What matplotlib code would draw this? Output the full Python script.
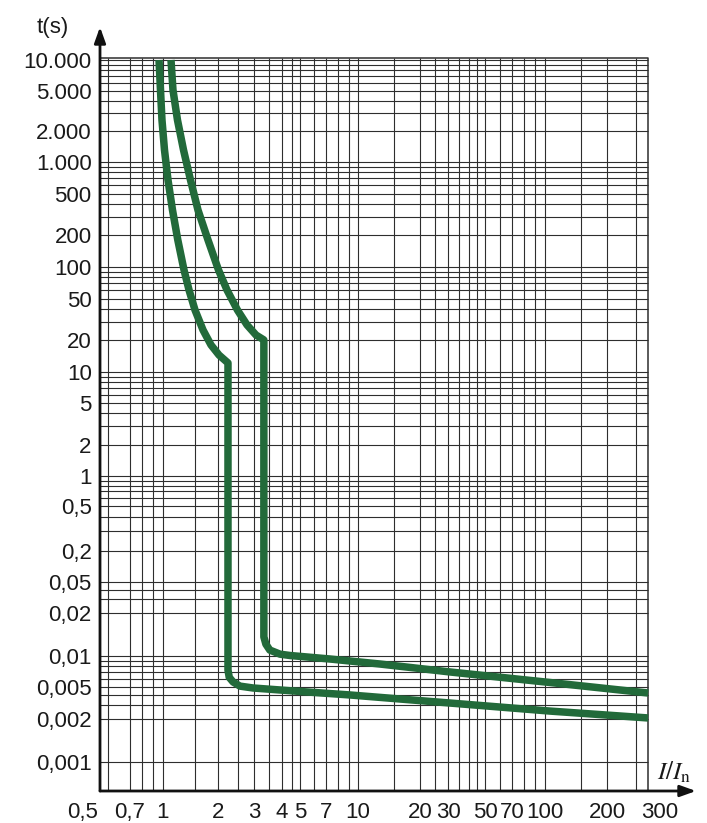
import numpy as np
import matplotlib.pyplot as plt

plt.rcParams['font.family'] = ['Liberation Sans', 'DejaVu Sans']
plt.rcParams['mathtext.fontset'] = 'stix'

W, H = 707, 823

# printed axis values
x_ticks = [0.5, 0.7, 1, 2, 3, 4, 5, 7, 10, 20, 30, 50, 70, 100, 200, 300]
x_labels = ['0,5', '0,7', '1', '2', '3', '4', '5', '7', '10', '20', '30',
            '50', '70', '100', '200', '300']
y_ticks = [10000, 5000, 2000, 1000, 500, 200, 100, 50, 20, 10, 5, 2, 1,
           0.5, 0.2, 0.05, 0.02, 0.01, 0.005, 0.002, 0.001]
y_labels = ['10.000', '5.000', '2.000', '1.000', '500', '200', '100', '50',
            '20', '10', '5', '2', '1', '0,5', '0,2', '0,05', '0,02', '0,01',
            '0,005', '0,002', '0,001']

# tripping curves: I/In vs time (s)
fast_i = [0.958, 0.973, 0.989, 1.019, 1.065, 1.127, 1.205, 1.303, 1.388,
          1.497, 1.656, 1.831, 2.023, 2.238,
          2.238, 2.27, 2.37, 2.56, 2.97, 5.0, 9.15, 30.8, 105.7, 274]
fast_t = [10000, 5080, 2582, 1312, 674, 349, 181, 93.7, 60.4,
          38.9, 25.1, 18.1, 14.5, 12.2,
          0.0073, 0.0062, 0.0056, 0.0051, 0.00486, 0.0044, 0.00398, 0.00316,
          0.00251, 0.00206]
slow_i = [1.106, 1.134, 1.2, 1.295, 1.414, 1.554, 1.763, 2.011, 2.213,
          2.49, 2.772, 3.062, 3.32,
          3.32, 3.39, 3.53, 3.92, 4.42, 7.32, 12.78, 30.8, 105.7, 274]
slow_t = [10000, 5080, 2582, 1312, 674, 349, 181, 93.7, 60.4,
          38.9, 28.1, 22.5, 20.2,
          0.0136, 0.0121, 0.0110, 0.0103, 0.01008, 0.00935, 0.00836, 0.0070,
          0.00553, 0.00421]

# the printed axes are not a clean log scale: piecewise log scale
# anchored at where each label sits on the sheet (pixels)
x_anchor_px = [83, 130, 163, 218, 254, 282, 300, 326, 358, 420, 448, 485,
               512, 545, 607, 660]
y_anchor_val = [0.001, 0.002, 0.005, 0.01, 0.02, 0.05, 0.2, 0.5, 1, 10,
                100, 1000, 10000]
y_anchor_px = [762, 719, 687, 656, 613, 582, 551, 506, 476, 372, 267, 162, 60]

xl = np.log10(x_ticks)
x_log = np.r_[xl[0] - x_anchor_px[0] / 200, xl, xl[-1] + (W - x_anchor_px[-1]) / 200]
x_pix = np.r_[0, x_anchor_px, W]
yl = np.log10(y_anchor_val)
y_pb = H - np.array(y_anchor_px, dtype=float)
y_log = np.r_[yl[0] - y_pb[0] / 100, yl, yl[-1] + (H - y_pb[-1]) / 102]
y_pix = np.r_[0, y_pb, H]


def fx(v):
    return np.interp(np.log10(np.clip(np.asarray(v, dtype=float), 1e-12, None)), x_log, x_pix)


def ix(p):
    return 10 ** np.interp(np.asarray(p, dtype=float), x_pix, x_log)


def fy(v):
    return np.interp(np.log10(np.clip(np.asarray(v, dtype=float), 1e-12, None)), y_log, y_pix)


def iy(p):
    return 10 ** np.interp(np.asarray(p, dtype=float), y_pix, y_log)


fig = plt.figure(figsize=(W / 100, H / 100), dpi=100)
ax = fig.add_axes([0, 0, 1, 1])
ax.set_xscale('function', functions=(fx, ix))
ax.set_yscale('function', functions=(fy, iy))
ax.set_xlim(ix(0), ix(W))
ax.set_ylim(iy(0), iy(H))
ax.patch.set_visible(False)

# grid box
x0, x1 = ix(100), ix(648)
y0, y1 = iy(H - 791), iy(H - 58)
grid_c = '#2e2e2e'

x_grid = [m * d for d in (0.1, 1, 10, 100)
          for m in (1, 1.5, 2, 2.5, 3, 3.5, 4, 4.5, 5, 6, 7, 8, 9)
          if x0 < m * d < x1]
y_grid = [m * d for d in (0.001, 0.01, 0.1, 1, 10, 100, 1000)
          for m in range(1, 10) if not (0.05 < m * d < 0.2)] + [10000]
ax.vlines(x_grid, y0, y1, color=grid_c, lw=0.8)
ax.hlines(y_grid, x0, x1, color=grid_c, lw=0.8)
ax.plot([x0, x1, x1], [y1, y1, y0], color=grid_c, lw=1.1)

# curves
green = '#226a3a'
ax.plot(fast_i, fast_t, color=green, lw=5.4, solid_capstyle='butt', solid_joinstyle='round')
ax.plot(slow_i, slow_t, color=green, lw=5.4, solid_capstyle='butt', solid_joinstyle='round')

# axes with arrows
arrow = dict(arrowstyle='-|>,head_length=0.95,head_width=0.34', lw=2.0,
             color='#111111', shrinkA=0, shrinkB=0)
ax.annotate('', xy=(x0, iy(H - 27)), xytext=(x0, y0), arrowprops=arrow)
ax.annotate('', xy=(ix(696), y0), xytext=(x0, y0), arrowprops=arrow)

for s in ax.spines.values():
    s.set_visible(False)
ax.spines['left'].set_position(('data', x0))
ax.spines['bottom'].set_position(('data', y0))

ax.set_xticks(x_ticks, x_labels)
ax.set_yticks(y_ticks, y_labels)
ax.minorticks_off()
ax.tick_params(length=0, labelsize=16, colors='#1a1a1a')
ax.tick_params(axis='y', pad=6)
ax.tick_params(axis='x', pad=8)

fig.text(53 / W, 1 - 27 / H, 't(s)', ha='center', va='center', fontsize=16, color='#1a1a1a')
fig.text(674 / W, 1 - 772 / H, r'$I/I_{\mathrm{n}}$', ha='center', va='center',
         fontsize=18, color='#1a1a1a')

fig.savefig('out.png', dpi=100)
